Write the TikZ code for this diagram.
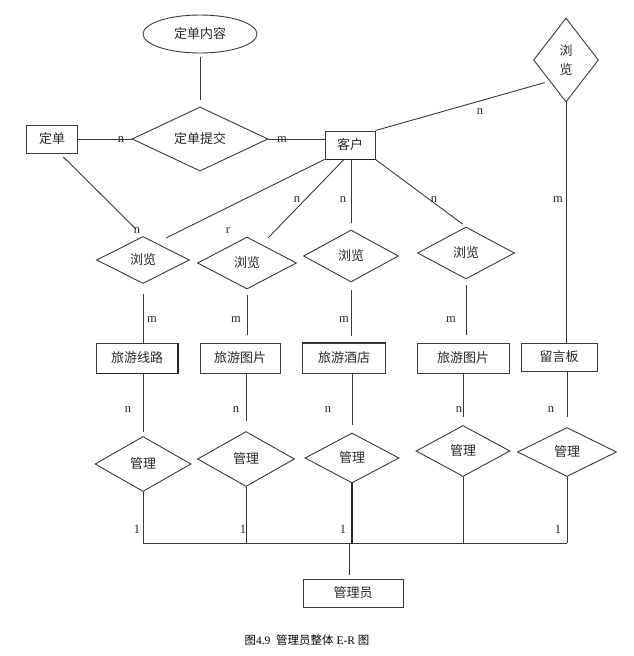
\documentclass[tikz,border=0pt]{standalone}
\usepackage{fontspec}
\setmainfont{Liberation Serif}
\newfontfamily\cjk{Noto Sans CJK SC}
\usetikzlibrary{shapes.geometric,calc}
\begin{document}
\begin{tikzpicture}[x=1pt,y=-1pt,
  base/.style={draw=black!78, line width=0.9pt, text=black!85,
    font=\cjk\fontsize{13}{19}\selectfont, inner sep=0pt},
  ent/.style={base, rectangle, minimum height=29pt},
  rel/.style={base, diamond, aspect=1},
  att/.style={base, ellipse},
  conn/.style={draw=black!78, line width=0.9pt},
  thick edge/.style={draw=black!85, line width=1.6pt},
  lab/.style={font=\fontsize{12.5}{14}\selectfont, text=black!85, inner sep=0pt},
  captext/.style={font=\fontsize{11.5}{13}\selectfont, text=black, inner sep=0pt}]
\useasboundingbox (0,0) rectangle (634,656);

% ---- top part
\node[att, minimum width=114pt, minimum height=38pt] (nr) at (200,34) {定单内容};
\node[rel, minimum width=136pt, minimum height=49pt] (tj) at (200,139) {定单提交};
\node[ent, minimum width=51pt, minimum height=28pt] (dd) at (52,139) {定单};
\node[ent, minimum width=50pt, minimum height=28pt] (kh) at (350,145) {客户};
\node[rel, minimum width=65pt, minimum height=84pt, align=center] (ll0) at (566,60) {浏\\览};

% ---- browse relations
\node[rel, minimum width=93pt, minimum height=47pt] (ll1) at (143,260) {浏览};
\node[rel, minimum width=99pt, minimum height=52pt] (ll2) at (247,263) {浏览};
\node[rel, minimum width=95pt, minimum height=52pt] (ll3) at (351,256) {浏览};
\node[rel, minimum width=97pt, minimum height=52pt] (ll4) at (466,253) {浏览};

% ---- entities
\node[ent, minimum width=81pt, minimum height=30pt] (xl) at (137,358) {旅游线路};
\node[ent, minimum width=80pt, minimum height=30pt] (tp1) at (240,358) {旅游图片};
\node[ent, minimum width=83pt, minimum height=30pt] (jd) at (344,358) {旅游酒店};
\node[ent, minimum width=92pt, minimum height=30pt] (tp2) at (463,358) {旅游图片};
\node[ent, minimum width=76pt, minimum height=28pt] (lyb) at (559,357) {留言板};

% ---- manage relations
\node[rel, minimum width=96pt, minimum height=55pt] (gl1) at (143,464) {管理};
\node[rel, minimum width=97pt, minimum height=55pt] (gl2) at (246,459) {管理};
\node[rel, minimum width=94pt, minimum height=50pt] (gl3) at (352,458) {管理};
\node[rel, minimum width=94pt, minimum height=51pt] (gl4) at (463,451) {管理};
\node[rel, minimum width=99pt, minimum height=49pt] (gl5) at (567,452) {管理};

\node[ent, minimum width=100pt, minimum height=28pt] (gly) at (353,593) {管理员};

% thicker edges
\draw[thick edge] (kh.south west) -- (kh.south east);
\draw[thick edge] (xl.south west) -- (xl.south east) -- (xl.north east);
\draw[thick edge] (jd.north west) -- (jd.north east);

% ---- connectors top
\draw[conn, shorten <=4pt, shorten >=6pt] (nr.south) -- (tj.north);
\draw[conn] (dd.east) -- (tj.west);
\draw[conn] (tj.east) -- (tj.east -| kh.west);
\draw[conn, shorten >=5pt] (kh.north east) -- (ll0.south west);
\draw[conn] (ll0.south) -- (ll0.south |- lyb.north);

\coordinate (e1) at (166,238);
\coordinate (e2) at (268,238);
\draw[conn, shorten <=5pt, shorten >=10pt] ($(dd.south)!0.3!(dd.south east)$) -- (ll1.north);
\draw[conn] (kh.south west) -- (e1);
\draw[conn] ($(kh.south)+(-6,0)$) -- (e2);
\draw[conn, shorten >=7pt] (kh.south -| ll3.north) -- (ll3.north);
\draw[conn, shorten >=4pt] (kh.south east) -- (ll4.north);

% ---- browse to entities
\draw[conn, shorten <=10pt] (ll1.south) -- (ll1.south |- xl.north);
\draw[conn, shorten <=6pt, shorten >=8pt] (ll2.south) -- (ll2.south |- tp1.north);
\draw[conn, shorten <=8pt, shorten >=7pt] (ll3.south) -- (ll3.south |- jd.north);
\draw[conn, shorten <=6pt, shorten >=8pt] (ll4.south) -- (ll4.south |- tp2.north);

% ---- entities to manage
\draw[conn, shorten >=4pt] (gl1.north |- xl.south) -- (gl1.north);
\draw[conn, shorten >=10pt] (gl2.north |- tp1.south) -- (gl2.north);
\draw[conn, shorten >=8pt] (gl3.north |- jd.south) -- (gl3.north);
\draw[conn, shorten >=8pt] (gl4.north |- tp2.south) -- (gl4.north);
\draw[conn, shorten >=10pt] (gl5.north |- lyb.south) -- (gl5.north);

% ---- bus to manager
\coordinate (busL) at (143,543);
\coordinate (busR) at (567,543);
\coordinate (busM) at (349,543);
\draw[conn] (busL) -- (busR);
\draw[conn] (gl1.south) -- (gl1.south |- busL);
\draw[conn] (gl2.south) -- (gl2.south |- busL);
\draw[thick edge] (gl3.south) -- (gl3.south |- busL);
\draw[conn] (gl4.south) -- (gl4.south |- busL);
\draw[conn] (gl5.south) -- (gl5.south |- busL);
\draw[conn, shorten >=4pt] (busM) -- (busM |- gly.north);

% ---- cardinality labels
\node[lab] (c1) at (121,140) {n};
\node[lab] (c2) at (282,140) {m};
\node[lab] (c3) at (480,112) {n};
\node[lab] (c4) at (558,200) {m};
\node[lab] (c5) at (137,231) {n};
\node[lab] (c6) at (228,231) {r};
\node[lab] (c7) at (297,200) {n};
\node[lab] (c8) at (343,200) {n};
\node[lab] (c9) at (434,200) {n};
\node[lab] (c10) at (152,320) {m};
\node[lab] (c11) at (236,320) {m};
\node[lab] (c12) at (344,320) {m};
\node[lab] (c13) at (451,320) {m};
\node[lab] (c14) at (128,410) {n};
\node[lab] (c15) at (236,410) {n};
\node[lab] (c16) at (328,410) {n};
\node[lab] (c17) at (459,410) {n};
\node[lab] (c18) at (551,410) {n};
\node[lab] (c19) at (137,529) {1};
\node[lab] (c20) at (243,529) {1};
\node[lab] (c21) at (343,529) {1};
\node[lab] (c22) at (558,529) {1};

% ---- caption
\node[captext] (caption) at (307,640) {{\cjk 图}4.9\ \ {\cjk 管理员整体} E-R {\cjk 图}};
\end{tikzpicture}
\end{document}
